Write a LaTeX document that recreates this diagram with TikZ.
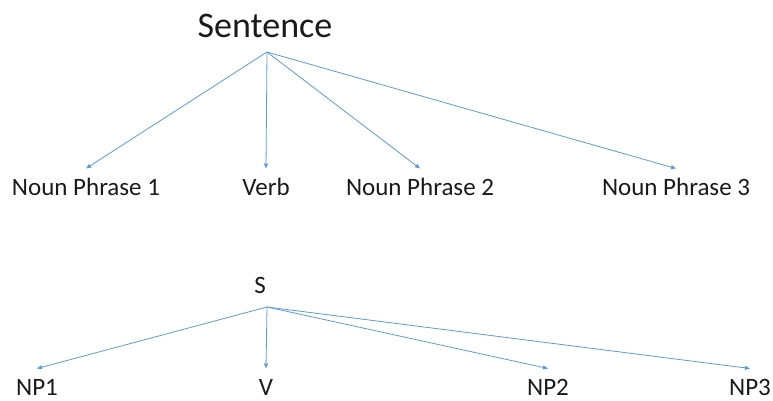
\documentclass[tikz,border=0pt]{standalone}
\usepackage{fontspec}
\setmainfont{Carlito}
\usetikzlibrary{arrows.meta}
\definecolor{linkblue}{HTML}{5B9BD5}
\definecolor{txt}{HTML}{1A1A1A}
\tikzset{
  lbl/.style={anchor=base, inner sep=0pt, text height=17pt, outer ysep=9.5pt, text=txt, font=\fontsize{25}{30}\selectfont},
  arr/.style={draw=linkblue, line width=0.8pt, -{Triangle[length=5pt,width=4pt]}}
}
\begin{document}
\begin{tikzpicture}[x=1pt,y=-1pt]
\useasboundingbox (0,0) rectangle (773,400);
% top tree
\node[anchor=base, inner sep=0pt, text=txt, font=\fontsize{36}{40}\selectfont] (sent) at (265,37) {Sentence};
\coordinate (sroot) at (267,52);
\node[lbl] (np1) at (86,195) {Noun Phrase 1};
\node[lbl] (verb) at (266,195) {Verb};
\node[lbl] (np2) at (420,195) {Noun Phrase 2};
\node[lbl] (np3) at (676,195) {Noun Phrase 3};
\draw[arr] (sroot) -- (np1.north);
\draw[arr] (sroot) -- (verb.north);
\draw[arr] (sroot) -- (np2.north);
\draw[arr] (sroot) -- (np3.north);
% bottom tree
\node[anchor=base, inner sep=0pt, text=txt, font=\fontsize{25}{30}\selectfont] (s) at (260,293) {S};
\coordinate (broot) at (267,307);
\node[lbl] (bnp1) at (37,395) {NP1};
\node[lbl] (bv) at (266,395) {V};
\node[lbl] (bnp2) at (548,395) {NP2};
\node[lbl] (bnp3) at (750,395) {NP3};
\draw[arr] (broot) -- (bnp1.north);
\draw[arr] (broot) -- (bv.north);
\draw[arr] (broot) -- (bnp2.north);
\draw[arr] (broot) -- (bnp3.north);
\end{tikzpicture}
\end{document}
